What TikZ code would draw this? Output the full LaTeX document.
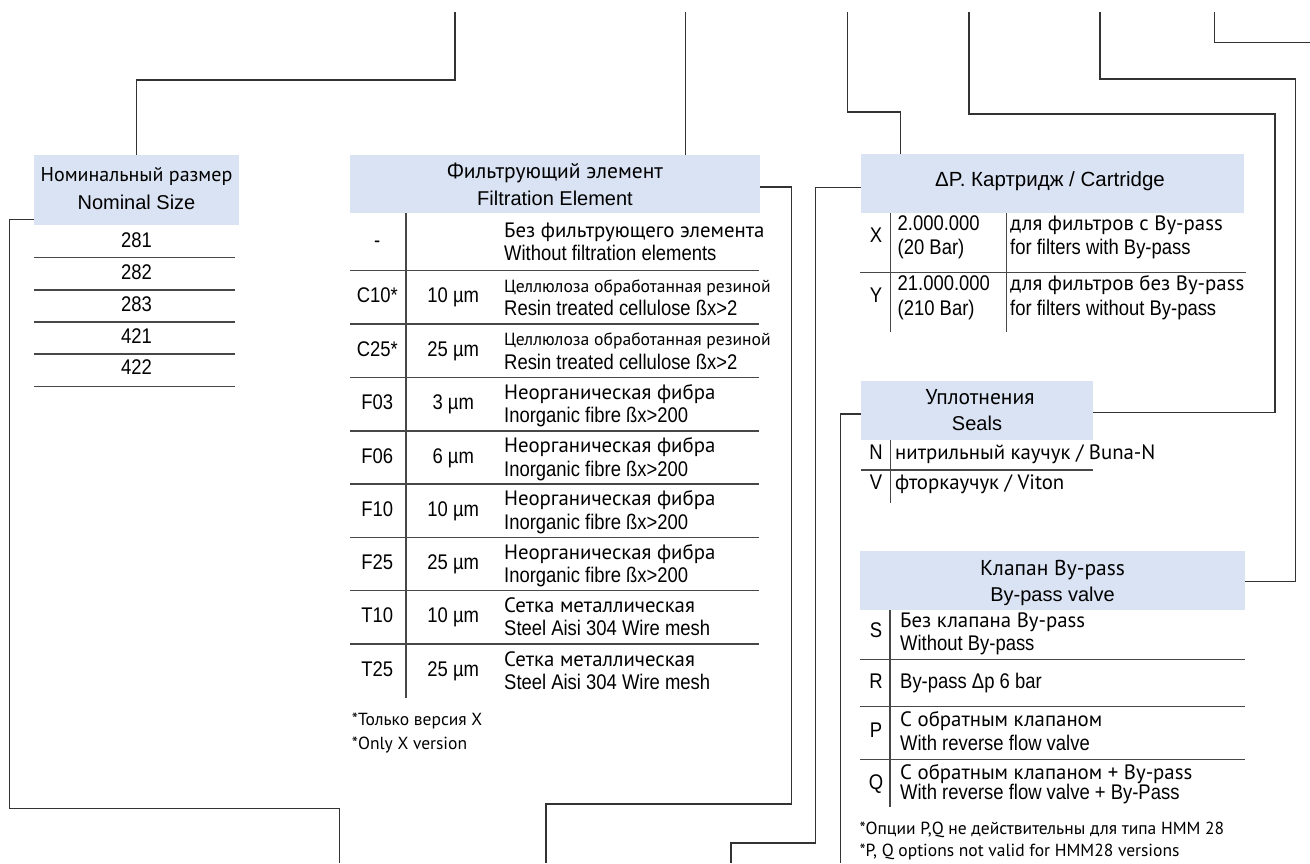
\documentclass[tikz,border=0pt]{standalone}
\usepackage{fontspec}
\newfontfamily\cyrf{PT Sans}
\newfontfamily\engf{Liberation Sans}[FakeStretch=0.87]
\newfontfamily\enghf{Liberation Sans}
\newcommand\tCy{\cyrf\fontsize{20.8}{24}\selectfont}
\newcommand\tCyS{\cyrf\fontsize{17.6}{20}\selectfont}
\newcommand\tEn{\engf\fontsize{21.2}{24}\selectfont}
\newcommand\tHd{\enghf\fontsize{20}{24}\selectfont}
\newcommand\tHc{\cyrf\fontsize{21.5}{24}\selectfont}
\newcommand\tFn{\cyrf\fontsize{17.5}{20}\selectfont}
\definecolor{hdrblue}{HTML}{DAE3F3}
\begin{document}
\begin{tikzpicture}[x=1pt,y=-1pt,
  hdr/.style={fill=hdrblue, draw=none, inner sep=0pt},
  rule/.style={line width=1.3pt, draw=black!72},
  conn/.style={line width=1.1pt, draw=black!80},
  txt/.style={inner sep=0pt, anchor=mid, yshift=-2.5pt},
  txtl/.style={inner sep=0pt, anchor=mid west, yshift=-2.5pt},
]
\useasboundingbox (0,0) rectangle (1310,863);

% ---------- headers ----------
\node[hdr, minimum width=205pt, minimum height=70pt] (nomH) at (136.5,190) {};
\node[txt] (nomH1) at (136.5,177) {\cyrf\fontsize{20}{24}\selectfont Номинальный размер};
\node[txt] (nomH2) at (136.5,205) {\tHd Nominal Size};

\node[hdr, minimum width=410pt, minimum height=58pt] (filH) at (555,184) {};
\node[txt] (filH1) at (555,174) {\tHc Фильтрующий элемент};
\node[txt] (filH2) at (555,200.7) {\tHd Filtration Element};

\node[hdr, minimum width=383pt, minimum height=58.7pt] (dpH) at (1052.5,183.4) {};
\node[txt] (dpH1) at (1050,182) {\enghf\fontsize{20.5}{24}\selectfont ΔP. Картридж / Cartridge};

\node[hdr, minimum width=232pt, minimum height=59pt] (sealH) at (977,410.5) {};
\node[txt] (sealH1) at (980,400) {\tHc Уплотнения};
\node[txt] (sealH2) at (977,426) {\tHd Seals};

\node[hdr, minimum width=385pt, minimum height=59pt] (bypH) at (1052.5,580.5) {};
\node[txt] (bypH1) at (1052.5,571) {\tHc Клапан By-pass};
\node[txt] (bypH2) at (1052.5,596.7) {\tHd By-pass valve};

% ---------- nominal size table ----------
\foreach \y in {257.7,290,322,354,386.7} \draw[rule] (34,\y) -- (235,\y);
\foreach \i/\y/\v in {1/243.3/281,2/275/282,3/307/283,4/339/421,5/370/422}
  \node[txt] (nom\i) at (136.5,\y) {\tEn \v};

% ---------- filtration table ----------
\draw[rule] (406,213) -- (406,698);
\foreach \y in {270.7,324,377.7,431,484,537.7,590.7,644} \draw[rule] (350,\y) -- (759.3,\y);
\foreach \i/\y/\code/\sz/\cy/\en in {
  0/242/{-}/{}/{\tCy Без фильтрующего элемента}/{Without filtration elements},
  1/297.3/{C10*}/{10 µm}/{\tCyS Целлюлоза обработанная резиной}/{Resin treated cellulose ßx>2},
  2/350.8/{C25*}/{25 µm}/{\tCyS Целлюлоза обработанная резиной}/{Resin treated cellulose ßx>2},
  3/404.3/{F03}/{3 µm}/{\tCy Неорганическая фибра}/{Inorganic fibre ßx>200},
  4/457.5/{F06}/{6 µm}/{\tCy Неорганическая фибра}/{Inorganic fibre ßx>200},
  5/510.8/{F10}/{10 µm}/{\tCy Неорганическая фибра}/{Inorganic fibre ßx>200},
  6/564.2/{F25}/{25 µm}/{\tCy Неорганическая фибра}/{Inorganic fibre ßx>200},
  7/617.3/{T10}/{10 µm}/{\tCy Сетка металлическая}/{Steel Aisi 304 Wire mesh},
  8/671/{T25}/{25 µm}/{\tCy Сетка металлическая}/{Steel Aisi 304 Wire mesh}}
{
  \node[txt] (fc\i) at (377.3,\y+1) {\tEn \code};
  \node[txt] (fs\i) at (453.3,\y+1) {\tEn \sz};
  \node[txtl] (fr\i) at (504,\y-9.5) {\cy};
  \node[txtl] (fe\i) at (504,\y+14) {\tEn \en};
}
\node[txtl] (ffn1) at (351.7,721) {\tFn *Только версия X};
\node[txtl] (ffn2) at (351.7,745) {\tFn *Only X version};

% ---------- delta P table ----------
\draw[rule] (890.7,213) -- (890.7,331.7);
\draw[rule] (1006.7,213) -- (1006.7,331.7);
\draw[rule] (860,272.3) -- (1245.7,272.3);
\node[txt] (dpX) at (876,238) {\tEn X};
\node[txtl] (dpX1) at (897.5,226) {\tEn 2.000.000};
\node[txtl] (dpX2) at (897.5,250) {\tEn (20 Bar)};
\node[txtl] (dpX3) at (1010,226) {\tCy для фильтров с By-pass};
\node[txtl] (dpX4) at (1010,250) {\tEn for filters with By-pass};
\node[txt] (dpY) at (876,298.3) {\tEn Y};
\node[txtl] (dpY1) at (897.5,285.7) {\tEn 21.000.000};
\node[txtl] (dpY2) at (897.5,311) {\tEn (210 Bar)};
\node[txtl] (dpY3) at (1010,285.7) {\tCy для фильтров без By-pass};
\node[txtl] (dpY4) at (1010,311) {\tEn for filters without By-pass};

% ---------- seals table ----------
\draw[rule] (890.7,440) -- (890.7,503);
\draw[rule] (861,470) -- (1092.7,470);
\node[txt] (sN) at (876,455) {\tEn N};
\node[txtl] (sN1) at (895,455) {\tCy нитрильный каучук / Buna-N};
\node[txt] (sV) at (876,485) {\tEn V};
\node[txtl] (sV1) at (895,485) {\tCy фторкаучук / Viton};

% ---------- by-pass table ----------
\draw[rule] (890,610) -- (890,807);
\foreach \y in {659.3,706.7,759.3} \draw[rule] (860,\y) -- (1245,\y);
\node[txt] (bS) at (876,633) {\tEn S};
\node[txtl] (bS1) at (900,623.3) {\tCy Без клапана By-pass};
\node[txtl] (bS2) at (900,645.7) {\tEn Without By-pass};
\node[txt] (bR) at (876,684) {\tEn R};
\node[txtl] (bR1) at (900,684) {\tEn By-pass Δp 6 bar};
\node[txt] (bP) at (876,733) {\tEn P};
\node[txtl] (bP1) at (900,721.7) {\tCy С обратным клапаном};
\node[txtl] (bP2) at (900,745.7) {\tEn With reverse flow valve};
\node[txt] (bQ) at (876,785) {\tEn Q};
\node[txtl] (bQ1) at (900,775) {\tCy С обратным клапаном + By-pass};
\node[txtl] (bQ2) at (900,795) {\tEn With reverse flow valve + By-Pass};
\node[txtl] (bfn1) at (859.3,830) {\tFn *Опции P,Q не действительны для типа HMM 28};
\node[txtl] (bfn2) at (859.3,851.7) {\tFn *P, Q options not valid for HMM28 versions};

% ---------- connectors ----------
\coordinate (tA) at (455,12);
\coordinate (tB) at (685.7,12);
\coordinate (tC) at (847.5,12);
\coordinate (tD) at (969,12);
\coordinate (tE) at (1100,12);
\coordinate (tF) at (1214.8,12);
\coordinate (eF) at (1310,42.7);
\coordinate (bN) at (339.3,863);
\coordinate (bF) at (546,863);
\coordinate (bD) at (731,863);
\coordinate (bSe) at (840.7,863);

\draw[conn] (tA) -- ++(0,68) -| (nomH.north);
\draw[conn] (tB) -- (tB |- filH.north);
\draw[conn] (tC) -- ++(0,100) -| ([xshift=39.7pt]dpH.north west);
\draw[conn] (tD) -- ++(0,102) -- ++(306,0) |- ([yshift=-2pt]sealH.east);
\draw[conn] (tE) -- ++(0,67) -- ++(195.7,0) |- ([yshift=-1pt]bypH.east);
\draw[conn] (tF) |- (eF);
\draw[conn] ([yshift=6pt]nomH.south west) -- ++(-24,0) -- ++(0,589) -| (bN);
\draw[conn] ([yshift=-3pt]filH.east) -- ++(31,0) -- ++(0,617) -| (bF);
\draw[conn] ([yshift=-4pt]dpH.west) -- ++(-45,0) -- ++(0,655.6) -| (bD);
\draw[conn] ([yshift=-3.5pt]sealH.west) -| (bSe);
\end{tikzpicture}
\end{document}
